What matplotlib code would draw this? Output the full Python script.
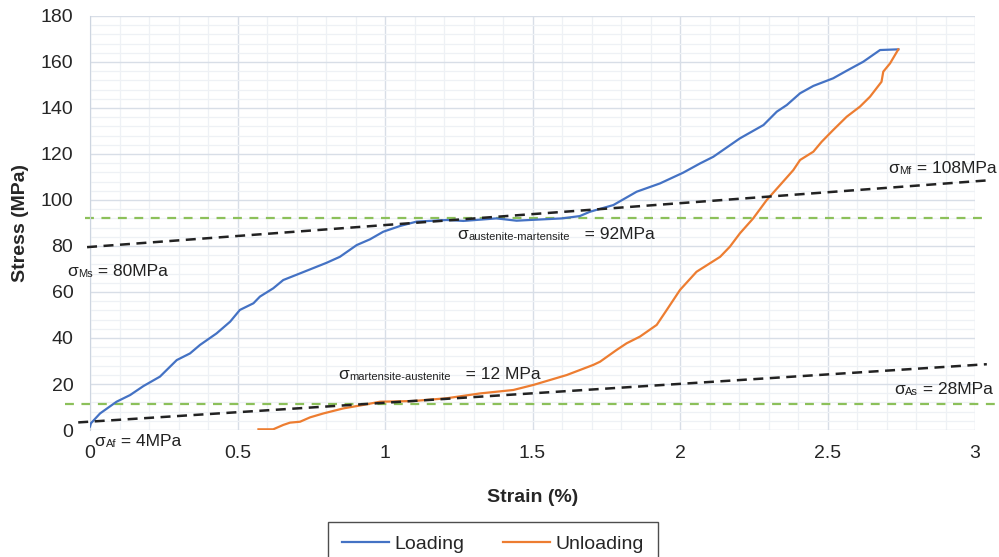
import matplotlib
matplotlib.use("Agg")
import matplotlib.pyplot as plt
from matplotlib.ticker import MultipleLocator

plt.rcParams['font.family'] = ['Liberation Sans', 'DejaVu Sans']

# loading branch (strain %, stress MPa)
load_strain = [0, 0.003, 0.034, 0.09, 0.136, 0.181, 0.237, 0.294, 0.339, 0.373, 0.429,
               0.475, 0.508, 0.554, 0.576, 0.621, 0.655, 0.712, 0.802, 0.847, 0.904,
               0.949, 0.994, 1.051, 1.107, 1.209, 1.266, 1.378, 1.446, 1.49, 1.60,
               1.66, 1.695, 1.774, 1.853, 1.932, 2.011, 2.068, 2.113, 2.203, 2.283,
               2.328, 2.362, 2.407, 2.452, 2.519, 2.565, 2.621, 2.678, 2.740]
load_stress = [1.5, 2.9, 7.2, 12.3, 15.2, 19.1, 23.2, 30.4, 33.3, 37.0, 42.0,
               47.1, 52.2, 55.1, 58.0, 61.6, 65.2, 68.1, 72.7, 75.3, 80.4,
               82.9, 86.2, 88.7, 90.6, 91.3, 90.9, 92.0, 91.0, 91.3, 92.0,
               93.0, 94.9, 97.8, 103.6, 107.2, 111.9, 115.9, 118.8, 126.8, 132.6,
               138.4, 141.3, 146.4, 149.6, 152.9, 156.2, 160.1, 165.2, 165.5]

# unloading branch
unload_strain = [0.571, 0.621, 0.655, 0.678, 0.712, 0.746, 0.791, 0.859, 0.926, 0.983,
                 1.096, 1.209, 1.322, 1.435, 1.503, 1.616, 1.706, 1.729, 1.785, 1.819,
                 1.864, 1.921, 1.955, 2.0, 2.056, 2.136, 2.169, 2.203, 2.248, 2.294,
                 2.344, 2.384, 2.407, 2.452, 2.480, 2.519, 2.565, 2.610, 2.644, 2.683,
                 2.689, 2.712, 2.740]
unload_stress = [0.3, 0.3, 2.2, 3.2, 3.6, 5.5, 7.2, 9.4, 10.9, 12.3,
                 12.6, 13.8, 15.9, 17.4, 19.6, 23.9, 28.3, 29.7, 34.8, 37.7,
                 40.6, 45.7, 52.2, 60.9, 68.8, 75.3, 79.7, 85.5, 92.0, 100.0,
                 107.2, 113.0, 117.4, 121.0, 125.3, 130.4, 136.2, 140.6, 144.9, 151.4,
                 155.8, 159.4, 165.5]

# fitted transformation lines
ms_mf_x = [-0.01, 3.05]
ms_mf_y = [79.5, 108.6]
af_as_x = [-0.04, 3.04]
af_as_y = [3.3, 28.6]
plateau_up_x = [-0.017, 3.04]
plateau_up_y = [92, 92]
plateau_lo_x = [-0.085, 3.1]
plateau_lo_y = [11.5, 11.5]

# labels: (x, y, subscript, value text)
labels = [
    (-0.078, 68.7, 'Ms', ' = 80MPa'),
    (0.014, -5.1, 'Af', ' = 4MPa'),
    (0.841, 24.3, 'martensite-austenite', '   = 12 MPa'),
    (1.244, 84.8, 'austenite-martensite', '   = 92MPa'),
    (2.705, 113.5, 'Mf', ' = 108MPa'),
    (2.725, 17.4, 'As', ' = 28MPa'),
]

fig = plt.figure(figsize=(9.99, 5.57), dpi=100)
ax = fig.add_axes([0.0901, 0.2280, 0.8859, 0.7433])

ax.plot(load_strain, load_stress, color='#4472C4', lw=1.6, label='Loading', zorder=3)
ax.plot(unload_strain, unload_stress, color='#ED7D31', lw=1.6, label='Unloading', zorder=3)

ax.plot(ms_mf_x, ms_mf_y, color='#222222', lw=1.8, dashes=(4, 2.6), clip_on=False, zorder=4)
ax.plot(af_as_x, af_as_y, color='#222222', lw=1.8, dashes=(4, 2.6), clip_on=False, zorder=4)
ax.plot(plateau_up_x, plateau_up_y, color='#8CC05A', lw=1.6, dashes=(4, 3.4), clip_on=False, zorder=2)
ax.plot(plateau_lo_x, plateau_lo_y, color='#8CC05A', lw=1.6, dashes=(4, 3.4), clip_on=False, zorder=2)

ax.set_xlim(0, 3)
ax.set_ylim(0, 180)
ax.xaxis.set_major_locator(MultipleLocator(0.5))
ax.xaxis.set_minor_locator(MultipleLocator(0.1))
ax.yaxis.set_major_locator(MultipleLocator(20))
ax.yaxis.set_minor_locator(MultipleLocator(4))
ax.xaxis.set_major_formatter(plt.FuncFormatter(lambda v, p: ('%g' % v)))

ax.grid(which='major', color='#D8DEE7', lw=1.0)
ax.grid(which='minor', color='#EEF1F5', lw=0.9)
ax.set_axisbelow(True)
for s in ['top', 'right', 'bottom']:
    ax.spines[s].set_visible(False)
ax.spines['left'].set_color('#CDD5E0')
ax.tick_params(which='both', length=0, labelsize=14, labelcolor='#262626')
ax.tick_params(axis='x', pad=11)
ax.tick_params(axis='y', pad=12)

ax.set_xlabel('Strain (%)', fontsize=14, fontweight='bold', color='#262626', labelpad=19)
ax.set_ylabel('Stress (MPa)', fontsize=14, fontweight='bold', color='#262626', labelpad=8)

for x, y, sub, val in labels:
    t1 = ax.text(x, y, 'σ', fontsize=12.5, color='#222222', va='center', ha='left', clip_on=False)
    t2 = ax.annotate(sub, xy=(1, 0), xycoords=t1, xytext=(0.5, 0), textcoords='offset points',
                     fontsize=8, color='#222222', va='bottom', ha='left')
    ax.annotate(val, xy=(1, 0), xycoords=t2, xytext=(0, 0), textcoords='offset points',
                fontsize=12.5, color='#222222', va='bottom', ha='left')

leg = fig.legend(loc='upper center', bbox_to_anchor=(493 / 999, 1 - 522 / 557), ncol=2,
                 fontsize=14, frameon=True, fancybox=False, edgecolor='#222222',
                 handlelength=2.4, columnspacing=2.0, borderpad=0.7, handletextpad=0.3,
                 borderaxespad=0)
leg.get_frame().set_linewidth(1.0)
for txt in leg.get_texts():
    txt.set_color('#262626')

fig.savefig('out.png', dpi=100)
